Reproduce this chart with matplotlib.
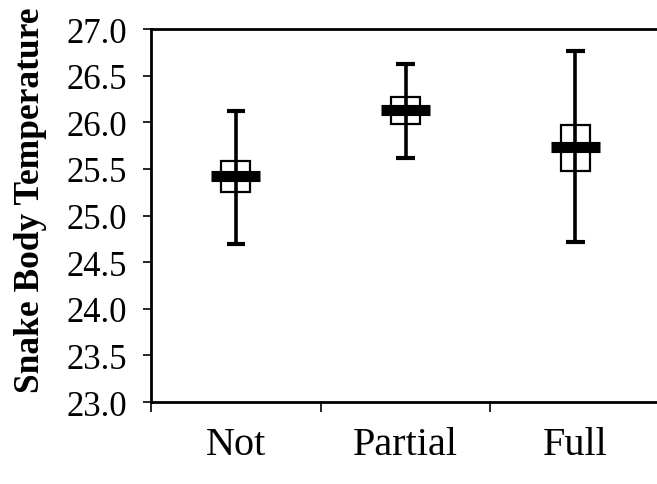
import matplotlib
matplotlib.use("Agg")
import matplotlib.pyplot as plt

# group summaries: whisker low/high, box low/high, mean
groups = ["Not", "Partial", "Full"]
whisker_low = [24.70, 25.62, 24.72]
whisker_high = [26.12, 26.63, 26.76]
box_low = [25.25, 25.98, 25.48]
box_high = [25.59, 26.27, 25.97]
means = [25.42, 26.13, 25.73]

plt.rcParams["font.family"] = ["Liberation Serif", "DejaVu Serif"]

fig = plt.figure(figsize=(6.57, 4.85), dpi=100)
ax = fig.add_axes([0.2298, 0.169, 0.775, 0.769])

x = [1, 2, 3]
heights = [h - l for h, l in zip(box_high, box_low)]
ax.bar(x, heights, bottom=box_low, width=0.17, fill=False,
       edgecolor="black", linewidth=1.6, zorder=2)
ax.vlines(x, whisker_low, whisker_high, color="black", linewidth=2.6, zorder=3)
ax.hlines(whisker_low, [i - 0.055 for i in x], [i + 0.055 for i in x],
          color="black", linewidth=3, zorder=3)
ax.hlines(whisker_high, [i - 0.055 for i in x], [i + 0.055 for i in x],
          color="black", linewidth=3, zorder=3)
ax.hlines(means, [i - 0.145 for i in x], [i + 0.145 for i in x],
          color="black", linewidth=8, zorder=4)

ax.set_xlim(0.5, 3.5)
ax.set_ylim(23.0, 27.0)
ax.set_yticks([23.0 + 0.5 * i for i in range(9)])
ax.set_yticklabels([f"{23.0 + 0.5 * i:.1f}" for i in range(9)], fontsize=25)
ax.tick_params(axis="y", direction="out", length=6, width=1.2, pad=11)

ax.set_xticks([0.5, 1.5, 2.5, 3.5])
ax.set_xticklabels([])
ax.set_xticks(x, minor=True)
ax.set_xticklabels(groups, minor=True, fontsize=29)
ax.tick_params(axis="x", which="major", direction="out", length=7, width=1.2)
ax.tick_params(axis="x", which="minor", length=0, pad=17)

for side in ["left", "bottom", "top"]:
    ax.spines[side].set_linewidth(2)
ax.spines["right"].set_visible(False)

ax.set_ylabel("Snake Body Temperature", fontsize=25.5, fontweight="bold")
ax.yaxis.set_label_coords(-0.205, 0.543)

fig.savefig("out.png", dpi=100)
